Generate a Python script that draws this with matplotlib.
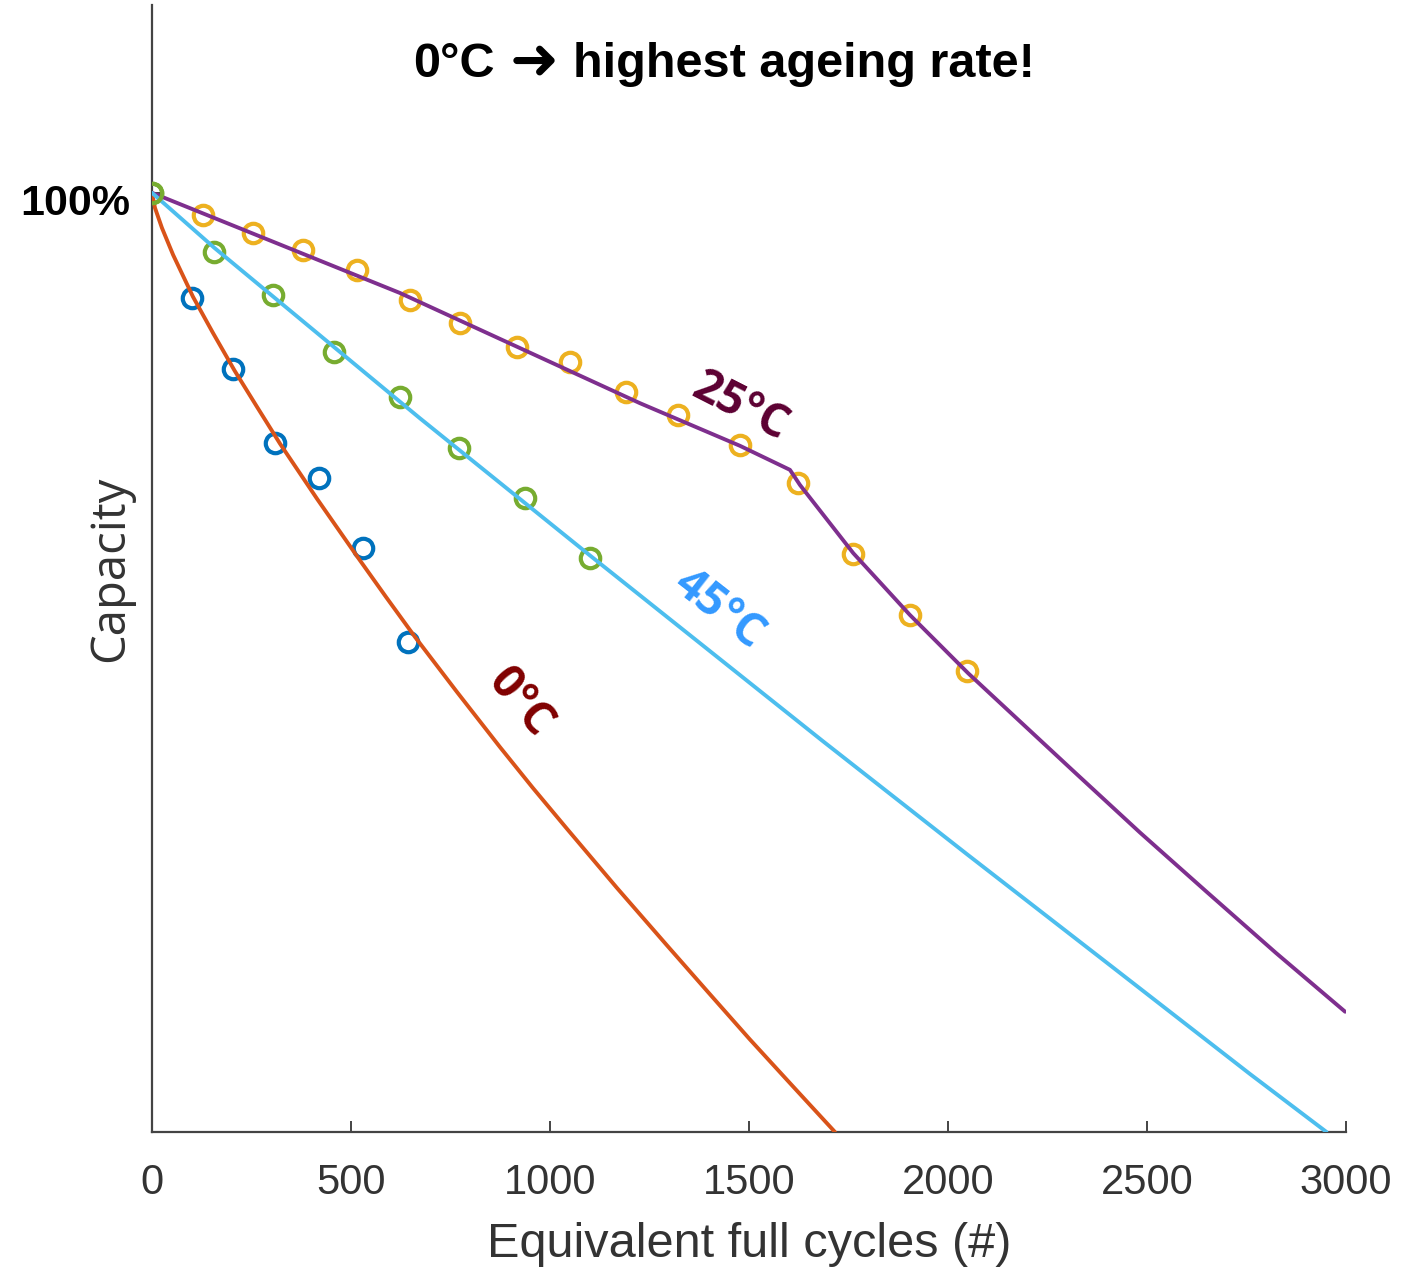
import matplotlib
matplotlib.use("Agg")
import matplotlib.pyplot as plt
from matplotlib.transforms import ScaledTranslation

# ---- measured capacity points (markers) ----
cyc_0C_meas = [100, 203, 309, 420, 529, 644]
cap_0C_meas = [96.64, 94.37, 92.00, 90.90, 88.64, 85.66]

cyc_25C_meas = [129, 254, 380, 514, 648, 774, 916, 1050, 1191, 1322, 1477, 1624, 1762, 1904, 2047]
cap_25C_meas = [99.30, 98.71, 98.18, 97.52, 96.58, 95.84, 95.09, 94.61, 93.65, 92.91, 91.95, 90.73, 88.47, 86.52, 84.71]

cyc_45C_meas = [0, 156, 305, 458, 623, 772, 937, 1100]
cap_45C_meas = [100.0, 98.12, 96.74, 94.93, 93.49, 91.84, 90.25, 88.33]

# ---- model curves ----
cyc_0C_fit = [0, 7.5, 25, 53, 103, 153, 208, 264, 322, 415, 518, 588, 661, 766, 874, 957, 1043,
              1168, 1294, 1397, 1502, 1608, 1716]
cap_0C_fit = [100.0, 99.52, 98.88, 98.02, 96.68, 95.53, 94.31, 93.16, 91.98, 90.22, 88.34, 87.09,
              85.81, 84.06, 82.30, 80.99, 79.68, 77.80, 75.96, 74.47, 72.96, 71.49, 70.0]

cyc_25C_fit = [0, 623, 1226, 1477, 1603, 1628, 1762, 1904, 2051, 2315, 2482, 2650, 2824, 2998]
cap_25C_fit = [100.0, 96.80, 93.28, 91.92, 91.15, 90.67, 88.49, 86.52, 84.65, 81.53, 79.57, 77.67, 75.72, 73.84]

cyc_45C_fit = [0, 156, 673, 1100, 1684, 2050, 2415, 2759, 2951]
cap_45C_fit = [100.0, 98.25, 92.80, 88.42, 82.50, 78.85, 75.25, 71.85, 70.0]

x_ticks = [0, 500, 1000, 1500, 2000, 2500, 3000]
y_ticks = [100]
y_tick_labels = ["100%"]

labels = ["0°C", "25°C", "45°C"]
label_pos = [(925, 83.7), (1477, 93.17), (1425, 86.71)]
label_rot = [-50, -27, -38]
label_col = ["#800000", "#5C0032", "#3399FF"]

title_parts = ["0°C", "➜", "highest ageing rate!"]

# ---- figure ----
fig = plt.figure(figsize=(14.27, 12.74), dpi=100)
ax = fig.add_axes([0.1065, 0.1115, 0.8367, 0.8846])

mk = dict(marker="o", linestyle="none", markersize=14, markeredgewidth=3.0,
          markerfacecolor="none", zorder=2)
ax.plot(cyc_0C_meas, cap_0C_meas, markeredgecolor="#0072BD", **mk)
ax.plot(cyc_25C_meas, cap_25C_meas, markeredgecolor="#EDB120", **mk)
ax.plot(cyc_45C_meas, cap_45C_meas, markeredgecolor="#77AC30", **mk)

ax.plot(cyc_0C_fit, cap_0C_fit, color="#D95319", lw=2.8, zorder=3, solid_capstyle="round")
ax.plot(cyc_25C_fit, cap_25C_fit, color="#7E2F8E", lw=2.8, zorder=3, solid_capstyle="round")
ax.plot(cyc_45C_fit, cap_45C_fit, color="#4DBEEE", lw=2.8, zorder=3, solid_capstyle="round")

ax.plot([0], [100], **{**mk, "markeredgecolor": "#77AC30", "zorder": 4})

for t, (x, y), r, c in zip(labels, label_pos, label_rot, label_col):
    ax.text(x, y, t, rotation=r, rotation_mode="anchor", ha="center", va="center",
            color=c, fontsize=33, fontweight="bold", family=["Open Sans", "DejaVu Sans"])

ax.set_xlim(0, 3000)
ax.set_ylim(70, 106)

for s in ["top", "right"]:
    ax.spines[s].set_visible(False)
for s in ["left", "bottom"]:
    ax.spines[s].set_color("#444444")
    ax.spines[s].set_linewidth(1.6)

ax.set_xticks(x_ticks)
ax.set_xticklabels([str(v) for v in x_ticks], family="Liberation Sans", fontsize=30, color="#333333")
ax.set_yticks(y_ticks)
ax.set_yticklabels(y_tick_labels, family="Liberation Sans", fontsize=31, fontweight="bold", color="black")
ax.tick_params(axis="x", direction="in", length=8, width=1.4, color="#444444", pad=22)
ax.tick_params(axis="y", direction="in", length=8, width=1.4, color="#444444", pad=16)
for lab in ax.get_yticklabels():
    lab.set_transform(lab.get_transform() + ScaledTranslation(0, -0.07, fig.dpi_scale_trans))

ax.set_xlabel("Equivalent full cycles (#)", family="Liberation Sans", fontsize=35, color="#333333")
ax.xaxis.label.set_va("center")
ax.xaxis.set_label_coords(0.5, -0.1003)
ax.set_ylabel("Capacity", family="Open Sans", fontsize=34, color="#333333")
ax.yaxis.label.set_va("center")
ax.yaxis.set_label_coords(-0.0352, 0.5)

# title built from three pieces so the arrow comes from a font that has a heavy arrow
tkw = dict(fontweight="bold", color="black")
t1 = ax.text(0.2186, 0.9361, title_parts[0], transform=ax.transAxes, ha="left", va="baseline",
             family="Liberation Sans", fontsize=35, **tkw)
t2 = ax.annotate(title_parts[1], xy=(1, 0.55), xycoords=t1, xytext=(11, 0), textcoords="offset points",
                 ha="left", va="center", family="DejaVu Sans", fontsize=42, **tkw)
t3 = ax.annotate(title_parts[2], xy=(1, 0), xycoords=(t2, t1), xytext=(10, 0), textcoords="offset points",
                 ha="left", va="bottom", family="Liberation Sans", fontsize=35, **tkw)

fig.savefig("out.png", dpi=100)
